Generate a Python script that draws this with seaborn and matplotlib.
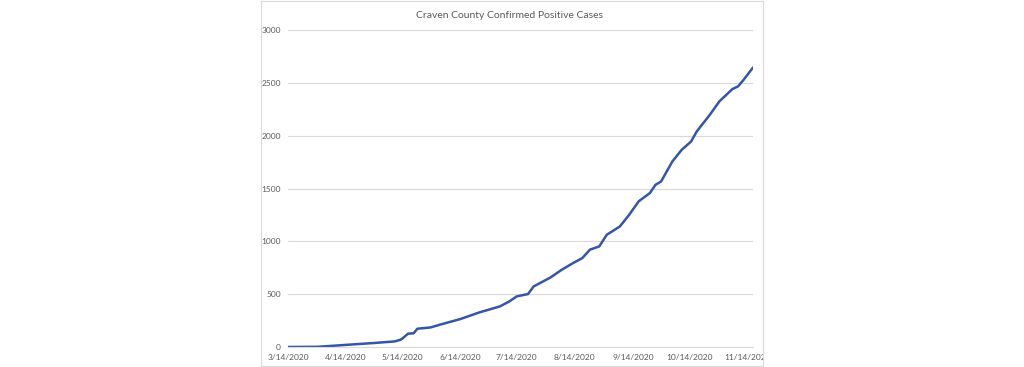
import matplotlib
matplotlib.use("Agg")
import matplotlib.pyplot as plt
from matplotlib.patches import Rectangle
from matplotlib.transforms import Bbox, TransformedBbox
import pandas as pd
import seaborn as sns

# cumulative confirmed cases
dates = ["2020-03-14", "2020-03-30", "2020-04-13", "2020-04-29", "2020-05-10",
         "2020-05-13", "2020-05-14", "2020-05-17", "2020-05-20", "2020-05-22",
         "2020-05-29", "2020-06-03", "2020-06-14", "2020-06-24", "2020-07-05",
         "2020-07-10", "2020-07-14", "2020-07-20", "2020-07-23", "2020-08-01",
         "2020-08-07", "2020-08-13", "2020-08-18", "2020-08-22", "2020-08-27",
         "2020-08-31", "2020-09-07", "2020-09-12", "2020-09-17", "2020-09-23",
         "2020-09-26", "2020-09-29", "2020-10-05", "2020-10-10", "2020-10-15",
         "2020-10-18", "2020-10-25", "2020-10-30", "2020-11-06", "2020-11-09",
         "2020-11-12", "2020-11-17"]
cases = [0, 2, 19, 38, 53,
         69, 80, 126, 130, 173,
         185, 211, 265, 327, 384,
         431, 479, 501, 573, 658,
         731, 794, 842, 921, 952,
         1062, 1141, 1252, 1378, 1457,
         1535, 1567, 1756, 1867, 1945,
         2040, 2198, 2323, 2441, 2466,
         2529, 2645]

tick_dates = ["2020-03-14", "2020-04-14", "2020-05-14", "2020-06-14", "2020-07-14",
              "2020-08-14", "2020-09-14", "2020-10-14", "2020-11-14"]
tick_labels = ["3/14/2020", "4/14/2020", "5/14/2020", "6/14/2020", "7/14/2020",
               "8/14/2020", "9/14/2020", "10/14/2020", "11/14/2020"]
y_ticks = [0, 500, 1000, 1500, 2000, 2500, 3000]

title = "Craven County Confirmed Positive Cases"

sns.set_style("white")
plt.rcParams['font.family'] = ['Lato', 'DejaVu Sans']

df = pd.DataFrame({"date": pd.to_datetime(dates), "cases": cases})

fig = plt.figure(figsize=(10.24, 3.67), dpi=100)
ax = fig.add_axes([288 / 1024, 20 / 367, 465 / 1024, 317 / 367])

grid_col = "#D9D9D9"
text_col = "#595959"

# chart frame
fig.patches.append(Rectangle((261 / 1024, 1 / 367), 502 / 1024, 365 / 367,
                             transform=fig.transFigure, fill=False,
                             edgecolor=grid_col, linewidth=0.8))

sns.lineplot(data=df, x="date", y="cases", ax=ax, color="#3356AA", linewidth=1.8)

ax.set_xlim(pd.Timestamp("2020-03-14"), pd.Timestamp("2020-11-17"))
ax.set_ylim(0, 3000)
ax.set_yticks(y_ticks)
ax.set_yticklabels([str(v) for v in y_ticks])
ax.set_xticks(pd.to_datetime(tick_dates))
ax.set_xticklabels(tick_labels)

ax.yaxis.grid(True, color=grid_col, linewidth=0.8)
ax.xaxis.grid(False)
for s in ["top", "right", "left"]:
    ax.spines[s].set_visible(False)
ax.spines["bottom"].set_color(grid_col)
ax.spines["bottom"].set_linewidth(0.8)

ax.tick_params(axis="y", length=0, pad=5, labelsize=6, labelcolor=text_col)
ax.tick_params(axis="x", length=3, width=0.8, color=grid_col, pad=2,
               labelsize=6, labelcolor=text_col, direction="out")
ax.set_xlabel("")
ax.set_ylabel("")

# the last date label is cut by the chart frame
clip = TransformedBbox(Bbox([[261 / 1024, 0], [763 / 1024, 1]]), fig.transFigure)
for lbl in ax.get_xticklabels():
    lbl.set_clip_box(clip)
    lbl.set_clip_on(True)

fig.text(510 / 1024, 1 - 15 / 367, title, ha="center", va="center",
         fontsize=7.5, color=text_col)

fig.savefig("out.png", dpi=100)
